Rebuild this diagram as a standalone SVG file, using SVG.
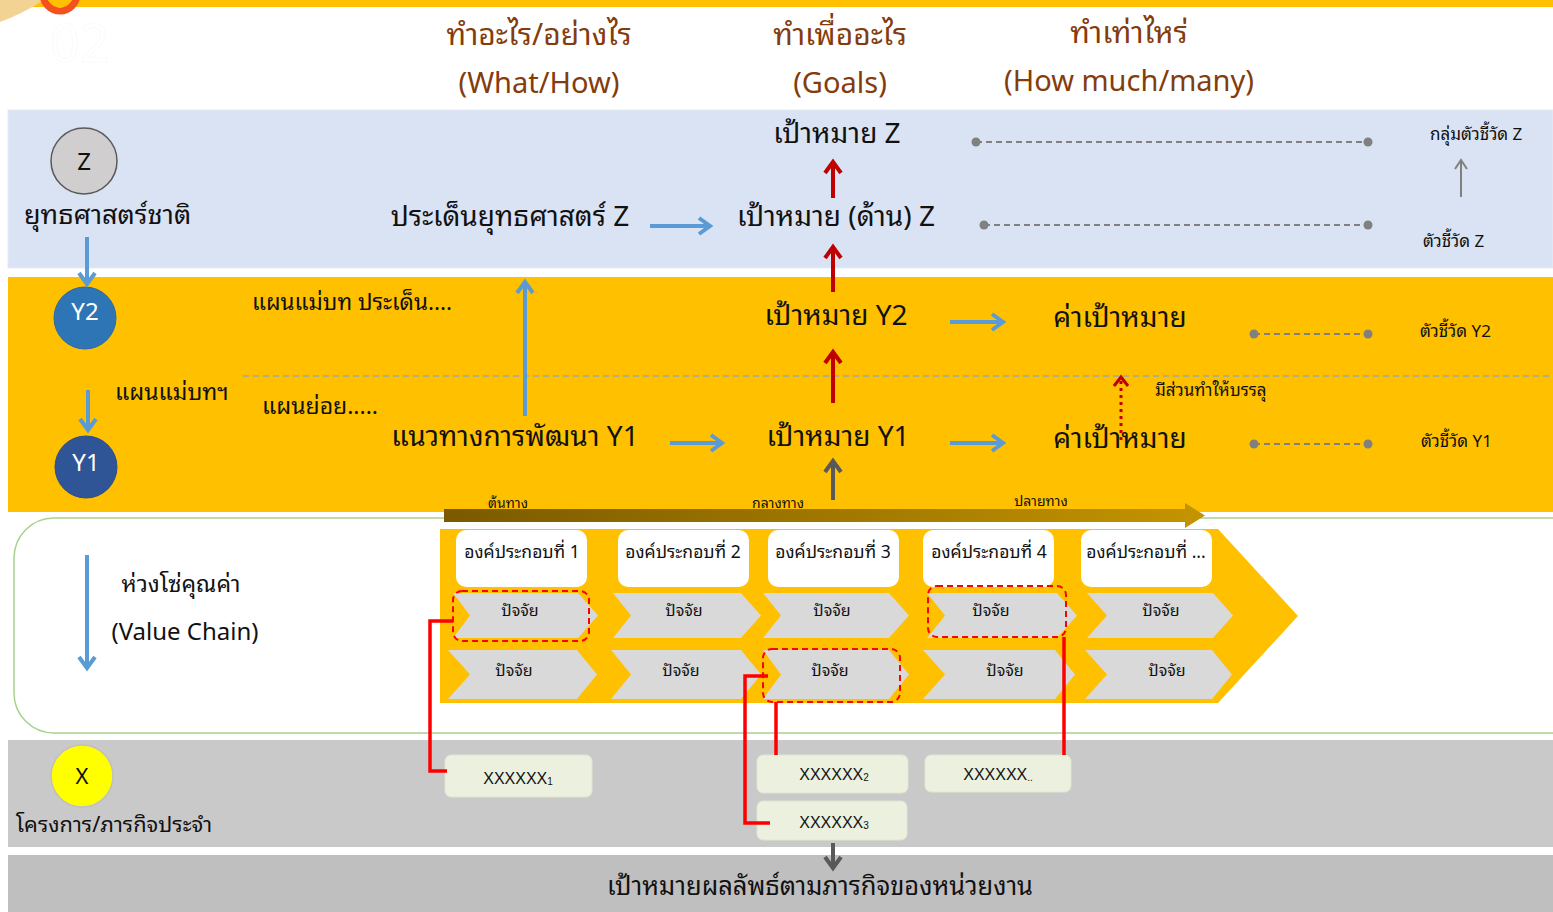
<svg xmlns="http://www.w3.org/2000/svg" width="1553" height="912" viewBox="0 0 1553 912">
<style>
text{font-family:"Noto Sans Thai Looped","Loma","Garuda","Tlwg Typo","Noto Sans Thai","Noto Sans","DejaVu Sans",sans-serif;fill:#111}
.hd{font-size:29px;fill:#843c0c;text-anchor:middle}
.hdt{font-size:30px}
.big{font-size:28px;text-anchor:middle}
.mid{font-size:23px}
.sm{font-size:17px}
.comp{font-size:17.5px;text-anchor:middle}
.fac{font-size:16px;text-anchor:middle}
.xx{font-size:16px;text-anchor:middle;font-family:"Liberation Sans",sans-serif}
.chev{fill:#d9d9d9}
.comp-box{fill:#ffffff}
.xbox{fill:#ebf1de;stroke:#dfe5d0;stroke-width:1}
.dot{fill:#808080}
.gdash{stroke:#808080;stroke-width:2;stroke-dasharray:6 4;fill:none}
.blue{stroke:#5b9bd5;stroke-width:4;fill:none;marker-end:url(#mb)}
.red{stroke:#c00000;stroke-width:4;fill:none;marker-end:url(#mr)}
.gray{stroke:#595959;stroke-width:4;fill:none;marker-end:url(#mg)}
.rdash{fill:none;stroke:#ff0000;stroke-width:2;stroke-dasharray:6 4}
.rline{fill:none;stroke:#ff0000;stroke-width:3.5}
</style>
<defs>
<marker id="mb" markerUnits="userSpaceOnUse" markerWidth="18" markerHeight="22" viewBox="-2 -2 18 22" refX="12" refY="9" orient="auto"><path d="M1,1 L12,9 L1,17" fill="none" stroke="#5b9bd5" stroke-width="4"/></marker>
<marker id="mr" markerUnits="userSpaceOnUse" markerWidth="18" markerHeight="22" viewBox="-2 -2 18 22" refX="12" refY="9" orient="auto"><path d="M1,1 L12,9 L1,17" fill="none" stroke="#c00000" stroke-width="4"/></marker>
<marker id="mg" markerUnits="userSpaceOnUse" markerWidth="18" markerHeight="22" viewBox="-2 -2 18 22" refX="12" refY="9" orient="auto"><path d="M1,1 L12,9 L1,17" fill="none" stroke="#595959" stroke-width="4"/></marker>
<marker id="mg2" markerUnits="userSpaceOnUse" markerWidth="14" markerHeight="18" viewBox="-2 -2 14 18" refX="10" refY="7" orient="auto"><path d="M1,1 L10,7 L1,13" fill="none" stroke="#808080" stroke-width="2"/></marker>
<marker id="mrd" markerUnits="userSpaceOnUse" markerWidth="16" markerHeight="20" viewBox="-2 -2 16 20" refX="10" refY="8" orient="auto"><path d="M1,1 L10,8 L1,15" fill="none" stroke="#c00000" stroke-width="3"/></marker>
<linearGradient id="gold" x1="0" y1="0" x2="1" y2="0"><stop offset="0" stop-color="#7a5a00"/><stop offset="1" stop-color="#c49400"/></linearGradient>
</defs>

<!-- background bands -->
<g id="bands">
<rect x="0" y="0" width="1553" height="912" fill="#ffffff"/>
<rect x="30" y="0" width="1523" height="7" fill="#ffc000"/>
<path d="M0,22 Q22,14 44,0 H0 Z" fill="#f3d394"/>
<circle cx="60" cy="-6" r="17" fill="none" stroke="#f4511e" stroke-width="7"/>
<text x="50" y="62" font-size="52" stroke="#fafafa" stroke-width="1" font-family="Liberation Sans,sans-serif" style="fill:none">02</text>
<rect x="8" y="110" width="1545" height="158" fill="#dae3f3" stroke="#e6ecf6" stroke-width="1"/>
<rect x="8" y="277" width="1545" height="235" fill="#ffc000"/>
<rect x="14" y="518" width="1580" height="215" rx="40" fill="#ffffff" stroke="#a9d18e" stroke-width="1.5"/>
<rect x="8" y="740" width="1545" height="107" fill="#c9c9c9"/>
<rect x="8" y="855" width="1545" height="57" fill="#bfbfbf"/>
<line x1="243" y1="376" x2="1553" y2="376" stroke="#9aa5b0" stroke-width="1.3" stroke-dasharray="6 4"/>
</g>

<!-- headers -->
<g id="headers">
<text class="hd hdt" x="539" y="45">ทำอะไร/อย่างไร</text>
<text class="hd" x="539" y="93">(What/How)</text>
<text class="hd hdt" x="840" y="45">ทำเพื่ออะไร</text>
<text class="hd" x="840" y="93">(Goals)</text>
<text class="hd hdt" x="1129" y="43">ทำเท่าไหร่</text>
<text class="hd" x="1129" y="91">(How much/many)</text>
</g>

<!-- left level nodes -->
<g id="node-z">
<circle cx="84" cy="161" r="33" fill="#d0cece" stroke="#595959" stroke-width="1.5"/>
<text x="84" y="170" font-size="24" text-anchor="middle">Z</text>
<text x="24" y="224" font-size="27">ยุทธศาสตร์ชาติ</text>
</g>
<g id="node-y2">
<circle cx="85" cy="318" r="31" fill="#2e75b6" stroke="#2e6aa6" stroke-width="1"/>
<text x="85" y="320" font-size="24" text-anchor="middle" style="fill:#fff">Y2</text>
</g>
<g id="node-y1">
<circle cx="86" cy="467" r="31" fill="#2f5597" stroke="#2b4f8a" stroke-width="1"/>
<text x="86" y="471" font-size="24" text-anchor="middle" style="fill:#fff">Y1</text>
<text x="115" y="400" class="mid">แผนแม่บทฯ</text>
</g>
<g id="node-plans">
<text x="252" y="310" font-size="22.5">แผนแม่บท ประเด็น....</text>
<text x="262" y="414" class="mid">แผนย่อย.....</text>
</g>
<g id="node-vc">
<text x="181" y="592" font-size="23" text-anchor="middle">ห่วงโซ่คุณค่า</text>
<text x="185" y="640" font-size="24" text-anchor="middle">(Value Chain)</text>
</g>
<g id="node-x">
<circle cx="82" cy="776" r="31" fill="#ffff00" stroke="#bfbfbf" stroke-width="1.5"/>
<text x="82" y="784" font-size="22" text-anchor="middle">X</text>
<text x="16" y="832" font-size="21.8">โครงการ/ภารกิจประจำ</text>
</g>

<!-- center nodes -->
<g id="node-goal-z"><text class="big" x="837" y="143">เป้าหมาย Z</text></g>
<g id="node-issue-z"><text class="big" x="510" y="226">ประเด็นยุทธศาสตร์ Z</text></g>
<g id="node-goal-side-z"><text class="big" x="836" y="226">เป้าหมาย (ด้าน) Z</text></g>
<g id="node-goal-y2"><text class="big" x="836" y="325">เป้าหมาย Y2</text></g>
<g id="node-dev-y1"><text class="big" x="515" y="446">แนวทางการพัฒนา Y1</text></g>
<g id="node-goal-y1"><text class="big" x="838" y="446">เป้าหมาย Y1</text></g>
<g id="node-val-y2"><text class="big" x="1120" y="327">ค่าเป้าหมาย</text></g>
<g id="node-val-y1"><text class="big" x="1120" y="448">ค่าเป้าหมาย</text></g>
<g id="node-contrib"><text class="sm" x="1155" y="396">มีส่วนทำให้บรรลุ</text></g>

<!-- indicators -->
<g id="node-ind">
<text class="sm" x="1430" y="140">กลุ่มตัวชี้วัด Z</text>
<text class="sm" x="1423" y="247">ตัวชี้วัด Z</text>
<text class="sm" x="1420" y="337">ตัวชี้วัด Y2</text>
<text class="sm" x="1421" y="447">ตัวชี้วัด Y1</text>
</g>

<!-- progress arrow -->
<g id="node-progress">
<path d="M444,509 H1185 V503 L1205,515.5 L1185,528 V522 H444 Z" fill="url(#gold)"/>
<text x="508" y="508" font-size="14" text-anchor="middle">ต้นทาง</text>
<text x="778" y="508" font-size="14" text-anchor="middle">กลางทาง</text>
<text x="1041" y="506" font-size="14" text-anchor="middle">ปลายทาง</text>
</g>

<!-- value chain -->
<g id="node-chain">
<path d="M440,529 H1218 L1298,616 L1218,703 H440 Z" fill="#ffc000"/>
</g>
<g id="node-comp1"><rect class="comp-box" x="456" y="530" width="131" height="57" rx="10"/><text class="comp" x="522" y="558">องค์ประกอบที่ 1</text></g>
<g id="node-comp2"><rect class="comp-box" x="618" y="530" width="131" height="57" rx="10"/><text class="comp" x="683" y="558">องค์ประกอบที่ 2</text></g>
<g id="node-comp3"><rect class="comp-box" x="768" y="530" width="131" height="57" rx="10"/><text class="comp" x="833" y="558">องค์ประกอบที่ 3</text></g>
<g id="node-comp4"><rect class="comp-box" x="923" y="530" width="131" height="57" rx="10"/><text class="comp" x="989" y="558">องค์ประกอบที่ 4</text></g>
<g id="node-comp5"><rect class="comp-box" x="1081" y="530" width="131" height="57" rx="10"/><text class="comp" x="1146" y="558">องค์ประกอบที่ ...</text></g>

<g id="node-factors">
<path class="chev" d="M453,593 H578 L598,615.5 L578,638 H453 L470,615.5 Z"/>
<path class="chev" d="M613,593 H741 L761,615.5 L741,638 H613 L631,615.5 Z"/>
<path class="chev" d="M763,593 H889 L909,615.5 L889,638 H763 L781,615.5 Z"/>
<path class="chev" d="M927,593 H1057 L1077,615.5 L1057,638 H927 L945,615.5 Z"/>
<path class="chev" d="M1087,593 H1213 L1233,615.5 L1213,638 H1087 L1107,615.5 Z"/>
<path class="chev" d="M448,650 H577 L597,674.5 L577,699 H448 L470,674.5 Z"/>
<path class="chev" d="M611,650 H741 L761,674.5 L741,699 H611 L631,674.5 Z"/>
<path class="chev" d="M763,650 H889 L909,674.5 L889,699 H763 L781,674.5 Z"/>
<path class="chev" d="M923,650 H1055 L1075,674.5 L1055,699 H923 L945,674.5 Z"/>
<path class="chev" d="M1085,650 H1212 L1232,674.5 L1212,699 H1085 L1107,674.5 Z"/>
<text class="fac" x="520" y="616">ปัจจัย</text>
<text class="fac" x="684" y="616">ปัจจัย</text>
<text class="fac" x="832" y="616">ปัจจัย</text>
<text class="fac" x="991" y="616">ปัจจัย</text>
<text class="fac" x="1161" y="616">ปัจจัย</text>
<text class="fac" x="514" y="676">ปัจจัย</text>
<text class="fac" x="681" y="676">ปัจจัย</text>
<text class="fac" x="830" y="676">ปัจจัย</text>
<text class="fac" x="1005" y="676">ปัจจัย</text>
<text class="fac" x="1167" y="676">ปัจจัย</text>
<rect class="rdash" x="453" y="591" width="136" height="50" rx="9"/>
<rect class="rdash" x="763" y="649" width="137" height="53" rx="9"/>
<rect class="rdash" x="928" y="586" width="138" height="51" rx="9"/>
</g>

<!-- projects -->
<g id="node-x1"><rect class="xbox" x="445" y="755" width="147" height="42" rx="6"/><text class="xx" x="518" y="784">XXXXXX<tspan font-size="10" dy="1">1</tspan></text></g>
<g id="node-x2"><rect class="xbox" x="757" y="755" width="151" height="38" rx="6"/><text class="xx" x="834" y="780">XXXXXX<tspan font-size="10" dy="1">2</tspan></text></g>
<g id="node-xn"><rect class="xbox" x="925" y="755" width="146" height="37" rx="6"/><text class="xx" x="998" y="780">XXXXXX<tspan font-size="10" dy="1">..</tspan></text></g>
<g id="node-x3"><rect class="xbox" x="757" y="801" width="150" height="39" rx="6"/><text class="xx" x="834" y="828">XXXXXX<tspan font-size="10" dy="1">3</tspan></text></g>

<g id="node-result"><text x="820" y="895" font-size="25.5" text-anchor="middle">เป้าหมายผลลัพธ์ตามภารกิจของหน่วยงาน</text></g>

<!-- connectors -->
<g id="connectors">
<line class="blue" x1="87" y1="237" x2="87" y2="284"/>
<line class="blue" x1="88" y1="390" x2="88" y2="430"/>
<line class="blue" x1="87" y1="555" x2="87" y2="668"/>
<line class="blue" x1="650" y1="226" x2="710" y2="226"/>
<line class="blue" x1="525" y1="416" x2="525" y2="282"/>
<line class="blue" x1="670" y1="443" x2="722" y2="443"/>
<line class="blue" x1="950" y1="322" x2="1003" y2="322"/>
<line class="blue" x1="950" y1="443" x2="1003" y2="443"/>
<line class="red" x1="833" y1="198" x2="833" y2="162"/>
<line class="red" x1="833" y1="292" x2="833" y2="247"/>
<line class="red" x1="833" y1="403" x2="833" y2="352"/>
<line class="gray" x1="833" y1="500" x2="833" y2="461"/>
<line class="gray" x1="833" y1="843" x2="833" y2="868"/>
<line x1="1461" y1="197" x2="1461" y2="160" stroke="#808080" stroke-width="2" marker-end="url(#mg2)"/>
<line x1="1121" y1="440" x2="1121" y2="377" stroke="#c00000" stroke-width="3" stroke-dasharray="3 4" marker-end="url(#mrd)"/>
<line class="gdash" x1="976" y1="142" x2="1368" y2="142"/>
<circle class="dot" cx="976" cy="142" r="4.5"/><circle class="dot" cx="1368" cy="142" r="4.5"/>
<line class="gdash" x1="984" y1="225" x2="1368" y2="225"/>
<circle class="dot" cx="984" cy="225" r="4.5"/><circle class="dot" cx="1368" cy="225" r="4.5"/>
<line class="gdash" x1="1254" y1="334" x2="1368" y2="334"/>
<circle class="dot" cx="1254" cy="334" r="4.5"/><circle class="dot" cx="1368" cy="334" r="4.5"/>
<line class="gdash" x1="1254" y1="444" x2="1368" y2="444"/>
<circle class="dot" cx="1254" cy="444" r="4.5"/><circle class="dot" cx="1368" cy="444" r="4.5"/>
<path class="rline" d="M453,621 H430 V771 H447"/>
<path class="rline" d="M768,676 H745 V823 H770"/>
<path class="rline" d="M776,702 V755"/>
<path class="rline" d="M1064,637 V755"/>
</g>
</svg>
